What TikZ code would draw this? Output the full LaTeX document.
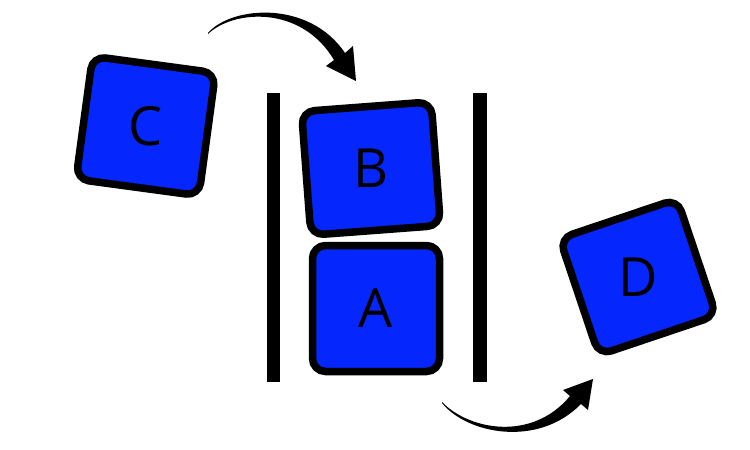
\documentclass[tikz,border=0pt]{standalone}
\usepackage{fontspec}
\setmainfont{Open Sans}
\definecolor{boxblue}{RGB}{5,38,252}
\tikzset{
  block/.style={draw=black, line width=7.5pt, fill=boxblue, rounded corners=13pt, inner sep=0pt},
  letter/.style={font=\fontsize{54}{60}\selectfont, text=black, inner sep=0pt},
  wall/.style={fill=black},
  bigarrow/.style={fill=black}
}
\begin{document}
\begin{tikzpicture}[x=1pt,y=-1pt]
\useasboundingbox (0,0) rectangle (750,450);
% walls
\fill[wall] (267,93) rectangle (280,382);
\fill[wall] (473,93) rectangle (487,382);
% blocks
\node[block, minimum width=124pt, minimum height=124pt, rotate=-7.7] (C) at (145.75,126) {};
\node[letter] (Ct) at (C.center) {C};
\node[block, minimum width=130pt, minimum height=124pt, rotate=4.3] (B) at (371,168.5) {};
\node[letter] (Bt) at (B.center) {B};
\node[block, minimum width=127pt, minimum height=126pt] (A) at (376,308.5) {};
\node[letter] (At) at (A.center) {A};
\node[block, minimum width=124pt, minimum height=123pt, rotate=18.6] (D) at (638,277) {};
\node[letter] (Dt) at (D.center) {D};
% arrow C -> B
\coordinate (a1s) at (208,33);
\coordinate (a1o) at (345,53);
\coordinate (a1h1) at (353,46);
\coordinate (a1tip) at (356,81);
\coordinate (a1h2) at (326,66);
\coordinate (a1i) at (334,60);
\fill[bigarrow] (a1s) .. controls (231,6) and (309,-0.5) .. (a1o) -- (a1h1) -- (a1tip) -- (a1h2) -- (a1i) .. controls (301,4.5) and (233,10) .. (208,34) -- cycle;
% arrow A -> D
\coordinate (a2s) at (442,403);
\coordinate (a2o) at (581,404);
\coordinate (a2h1) at (588,410);
\coordinate (a2tip) at (593,379);
\coordinate (a2h2) at (563,390);
\coordinate (a2i) at (570,396);
\fill[bigarrow] (a2s) .. controls (467,434) and (538,448) .. (a2o) -- (a2h1) -- (a2tip) -- (a2h2) -- (a2i) .. controls (532,442) and (469,430) .. (442,402) -- cycle;
\end{tikzpicture}
\end{document}
